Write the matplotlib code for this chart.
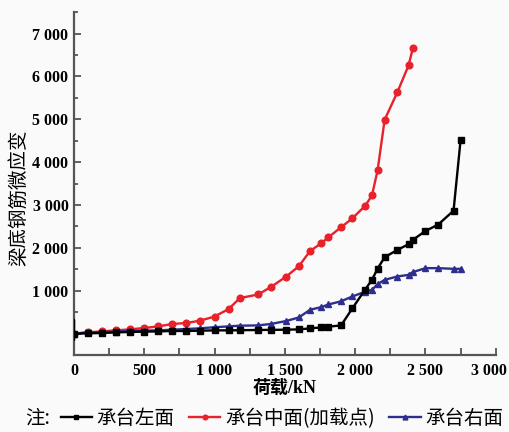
import numpy as np
import matplotlib.pyplot as plt
import matplotlib.transforms as mtransforms
from matplotlib.ticker import MultipleLocator, FuncFormatter

# load steps (kN)
loads = [0, 0, 0, 100, 200, 300, 400, 500, 600, 700, 800, 900, 1000, 1100, 1180,
         1310, 1400, 1510, 1600, 1680, 1760, 1810, 1900, 1980, 2070, 2120, 2160,
         2210, 2300, 2380, 2410, 2500, 2590, 2700, 2750]

# micro strain, left face of the cap (first two values: short vertical stroke at zero load)
left_face = [-140, 320, 0, 7, 16, 30, 40, 47, 53, 63, 63, 70, 77, 77, 80,
             86, 88, 93, 100, 123, 147, 163, 193, 588, 1023, 1256, 1519,
             1783, 1953, 2086, 2186, 2395, 2542, 2868, 4512]

# middle face (loading point), stops at 2410 kN
mid_face = [0, 30, 53, 77, 100, 133, 170, 226, 249, 305, 400, 574, 830,
            914, 1086, 1333, 1574, 1930, 2109, 2249, 2481, 2690, 2977, 3225, 3814,
            4990, 5628, 6256, 6651]

# right face
right_face = [0, 30, 35, 47, 63, 70, 77, 93, 109, 125, 150, 170, 186,
              193, 226, 295, 379, 558, 620, 681, 755, 867, 977, 1023, 1156,
              1256, 1333, 1372, 1435, 1528, 1528, 1512, 1512]

series_names = ['承台左面', '承台中面(加载点)', '承台右面']

serif = ['Liberation Serif', 'Noto Sans CJK SC']
cjk = ['Noto Sans CJK SC', 'DejaVu Sans']

fig = plt.figure(figsize=(5.1, 4.32), dpi=100, facecolor='#fafafa')
ax = fig.add_axes([0.145, 0.178, 0.827, 0.794])
ax.set_facecolor('#fafafa')

x_all = np.array(loads)
ax.plot(x_all, left_face, '-', color='black', lw=1.7, marker='s', ms=4.5,
        markevery=list(range(2, len(loads))), label=series_names[0], zorder=3)
ax.plot(x_all[2:2 + len(mid_face)], mid_face, '-', color='#e8212b', lw=1.7,
        marker='o', ms=4.8, label=series_names[1], zorder=2)
ax.plot(x_all[2:], right_face, '-', color='#2e2e8e', lw=1.7, marker='^', ms=5,
        label=series_names[2], zorder=2)

ax.set_xlim(0, 3000)
ax.set_ylim(-500, 7500)

ax.xaxis.set_major_locator(MultipleLocator(500))
ax.xaxis.set_minor_locator(MultipleLocator(250))
ax.yaxis.set_major_locator(MultipleLocator(1000))
ax.yaxis.set_minor_locator(MultipleLocator(500))


def thousands(v, pos):
    v = int(round(v))
    if v == 0:
        return '0'
    return f'{v:,}'.replace(',', ' ')


def ylab(v, pos):
    if v <= 0:
        return ''
    return thousands(v, pos)


ax.xaxis.set_major_formatter(FuncFormatter(thousands))
ax.yaxis.set_major_formatter(FuncFormatter(ylab))

for side in ['top', 'right']:
    ax.spines[side].set_visible(False)
for side in ['left', 'bottom']:
    ax.spines[side].set_linewidth(1.6)
    ax.spines[side].set_color('#555555')

ax.tick_params(axis='x', which='both', direction='in', length=5, width=1.3,
               colors='#555555', labelcolor='black', pad=6)
ax.tick_params(axis='y', which='both', direction='in', width=1.3,
               colors='#555555', labelcolor='black', pad=4)
ax.tick_params(axis='y', which='major', length=5)
ax.tick_params(axis='y', which='minor', length=3)

fig.canvas.draw()
for lab in ax.get_xticklabels() + ax.get_yticklabels():
    lab.set_family(['Liberation Serif', 'DejaVu Serif'])
    lab.set_fontweight('bold')
    lab.set_fontsize(11.5)

# last x label sits at the figure edge: nudge it a few pixels left
shift = mtransforms.ScaledTranslation(-5 / 72, 0, fig.dpi_scale_trans)
for lab in ax.get_xticklabels():
    if lab.get_text() == '3 000':
        lab.set_transform(lab.get_transform() + shift)

ax.set_xlabel('荷载/kN', family=serif, fontweight='bold', fontsize=13, labelpad=0)
ax.set_ylabel('梁底钢筋微应变', family=cjk, fontsize=14)
ax.yaxis.set_label_coords(-0.105, 0.46)

fig.text(0.05, 0.032, '注:', family=cjk, fontsize=14, va='center', ha='left')
fig.legend(loc='center', bbox_to_anchor=(0.553, 0.032), ncol=3, frameon=False,
           prop={'family': cjk, 'size': 14}, handlelength=1.6, handletextpad=0.25,
           columnspacing=0.75, markerscale=0.7, borderpad=0.1)

fig.savefig('out.png', dpi=100, facecolor=fig.get_facecolor())
